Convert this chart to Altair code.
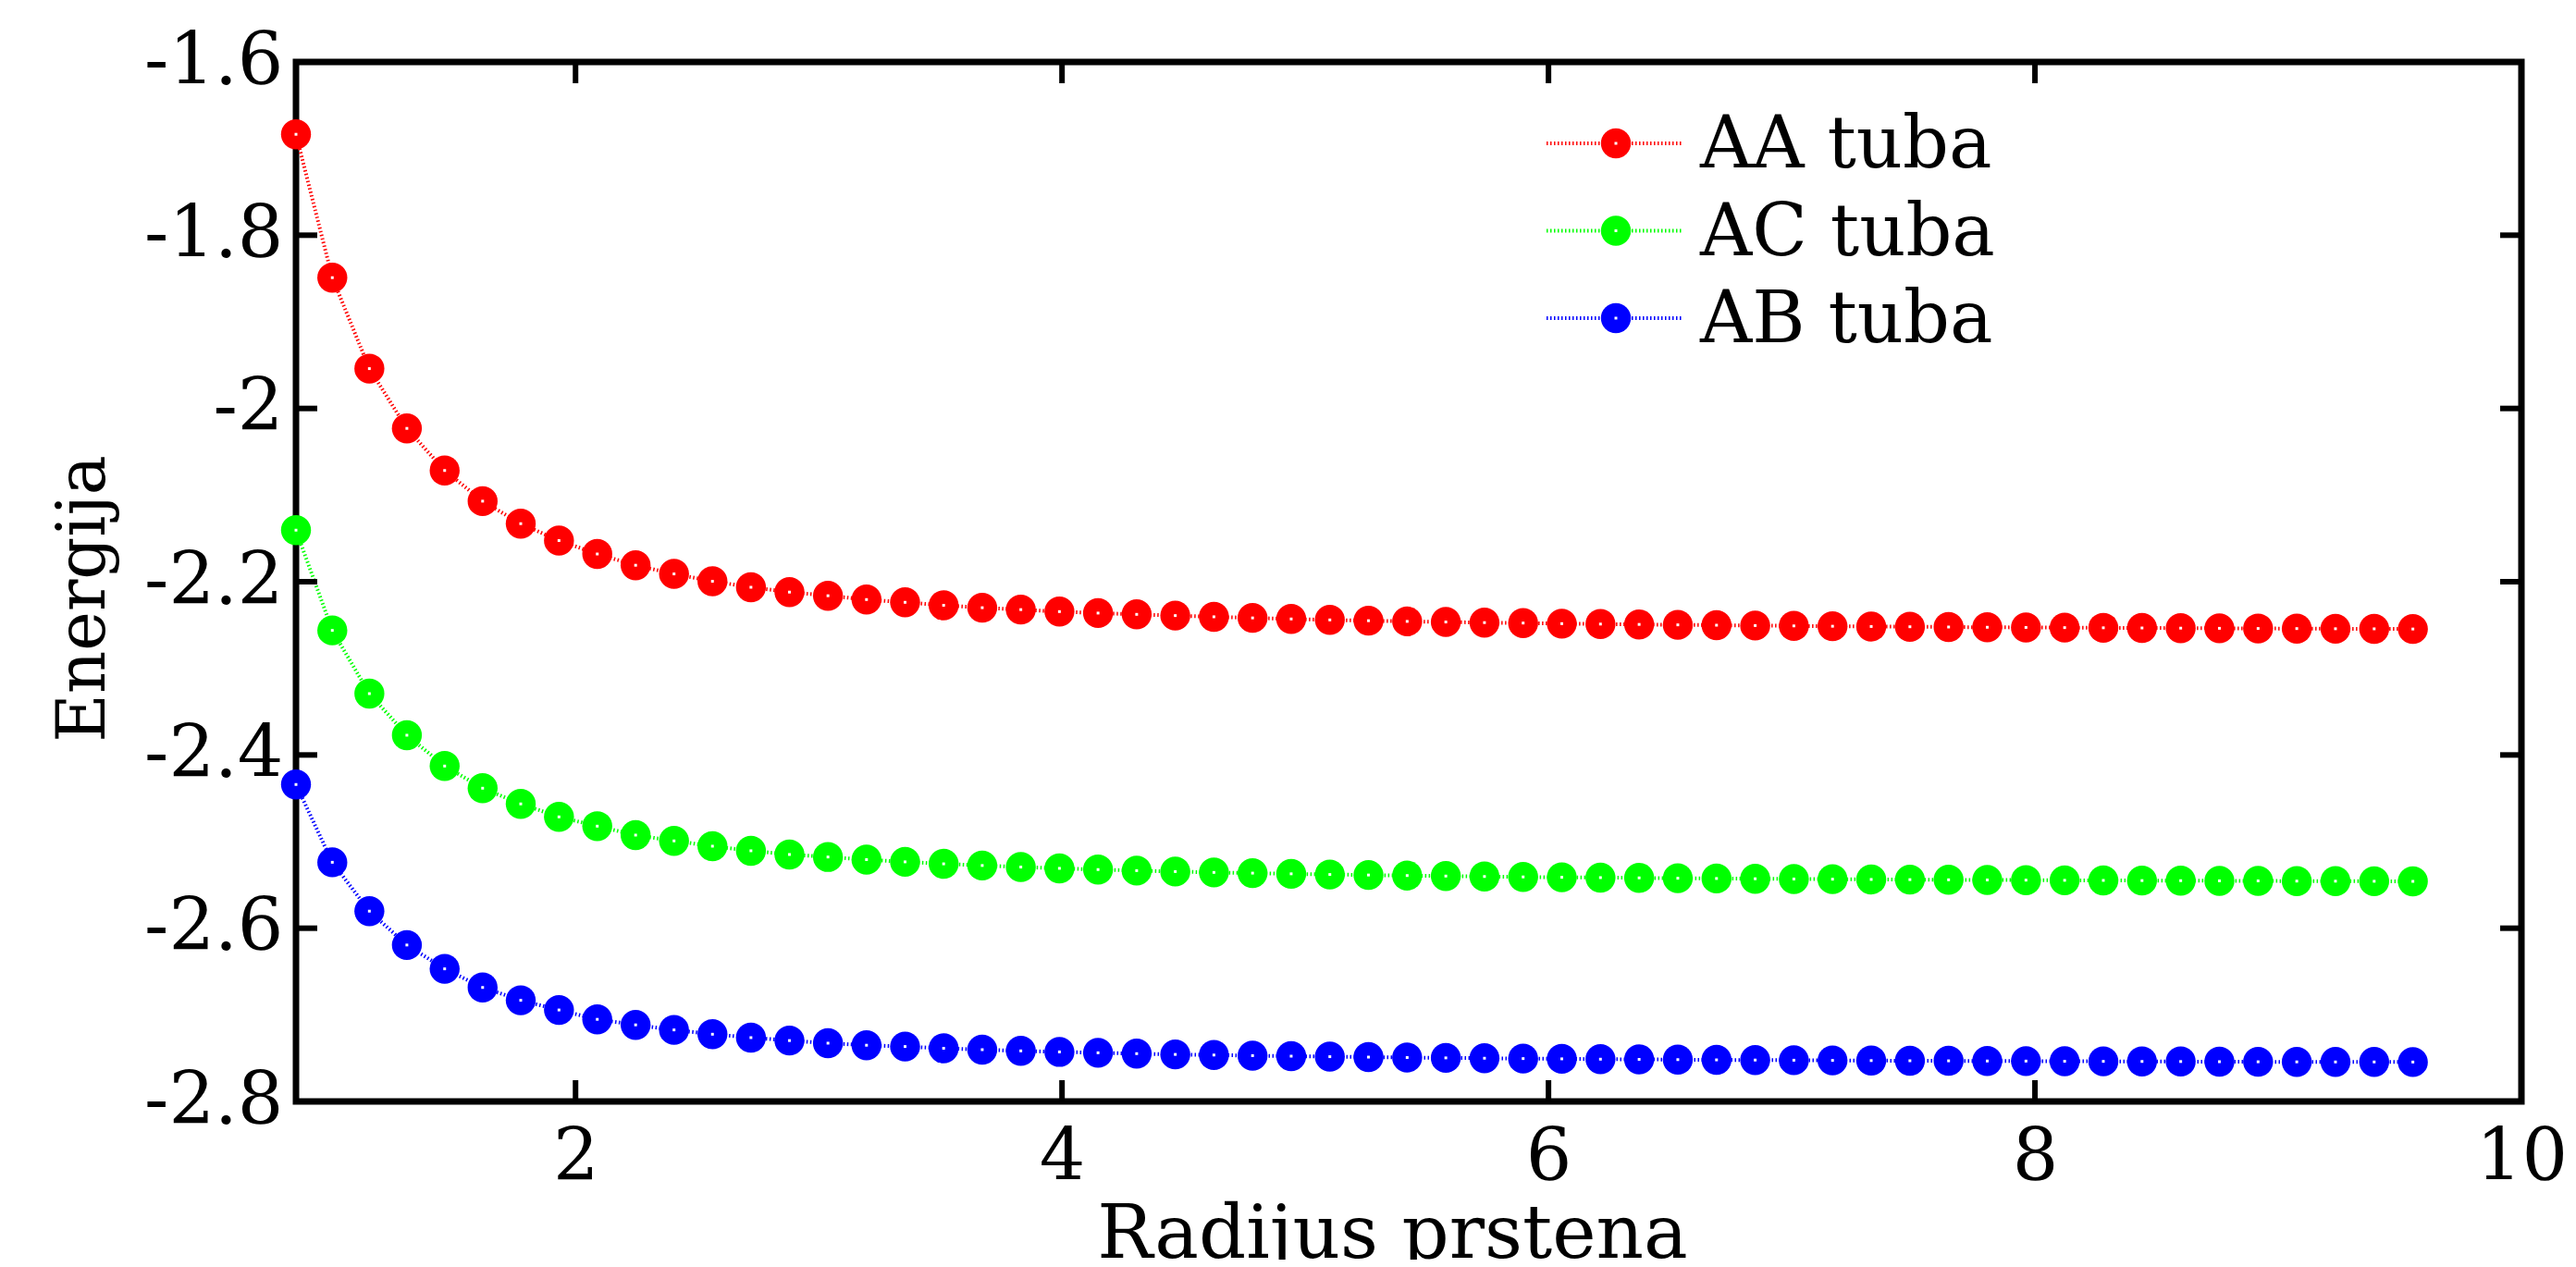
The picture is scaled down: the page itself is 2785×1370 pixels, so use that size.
import altair as alt
import pandas as pd

# ring radius (x) for each point
radius = [0.8507, 1.0000, 1.1524, 1.3066, 1.4619, 1.6180, 1.7747, 1.9319, 2.0893, 2.2470,
          2.4049, 2.5629, 2.7211, 2.8794, 3.0378, 3.1962, 3.3548, 3.5133, 3.6720, 3.8306,
          3.9894, 4.1481, 4.3069, 4.4657, 4.6245, 4.7834, 4.9422, 5.1011, 5.2600, 5.4190,
          5.5779, 5.7368, 5.8958, 6.0548, 6.2137, 6.3727, 6.5317, 6.6908, 6.8498, 7.0088,
          7.1678, 7.3268, 7.4859, 7.6449, 7.8039, 7.9630, 8.1220, 8.2811, 8.4401, 8.5992,
          8.7583, 8.9174, 9.0764, 9.2355, 9.3946, 9.5537]

aa_tuba = [-1.6835, -1.849, -1.954, -2.023, -2.0716, -2.107, -2.133, -2.1525, -2.168, -2.181,
           -2.191, -2.1995, -2.2064, -2.212, -2.2162, -2.2206, -2.2238, -2.2272, -2.2300, -2.2322,
           -2.2345, -2.2362, -2.2377, -2.2391, -2.2405, -2.2418, -2.2430, -2.2441, -2.2450, -2.2458,
           -2.2465, -2.2472, -2.2477, -2.2484, -2.2489, -2.2493, -2.2498, -2.2502, -2.2506, -2.2510,
           -2.2514, -2.2517, -2.2520, -2.2523, -2.2526, -2.2528, -2.2530, -2.2532, -2.2534, -2.2536,
           -2.2538, -2.2540, -2.2541, -2.2543, -2.2544, -2.2546]

ac_tuba = [-2.1405, -2.2562, -2.3292, -2.3772, -2.4128, -2.4384, -2.4565, -2.4715, -2.4822, -2.4925,
           -2.4992, -2.5053, -2.5106, -2.5149, -2.5178, -2.5208, -2.5234, -2.5257, -2.5276, -2.5294,
           -2.5309, -2.5323, -2.5335, -2.5346, -2.5356, -2.5364, -2.5372, -2.5380, -2.5386, -2.5392,
           -2.5398, -2.5403, -2.5408, -2.5412, -2.5416, -2.5419, -2.5423, -2.5426, -2.5429, -2.5432,
           -2.5434, -2.5437, -2.5439, -2.5441, -2.5443, -2.5445, -2.5447, -2.5448, -2.5450, -2.5451,
           -2.5453, -2.5454, -2.5456, -2.5457, -2.5458, -2.5459]

ab_tuba = [-2.4341, -2.5239, -2.5803, -2.6194, -2.6469, -2.6684, -2.6832, -2.6944, -2.7052, -2.7116,
           -2.7174, -2.7224, -2.7263, -2.7297, -2.7327, -2.7351, -2.7366, -2.7386, -2.7402, -2.7416,
           -2.7428, -2.7438, -2.7448, -2.7457, -2.7464, -2.7471, -2.7477, -2.7483, -2.7488, -2.7493,
           -2.7497, -2.7501, -2.7505, -2.7508, -2.7512, -2.7514, -2.7517, -2.7520, -2.7522, -2.7524,
           -2.7526, -2.7528, -2.7530, -2.7531, -2.7533, -2.7534, -2.7536, -2.7537, -2.7538, -2.7539,
           -2.7541, -2.7542, -2.7543, -2.7544, -2.7544, -2.7545]

series_names = ["AA tuba", "AC tuba", "AB tuba"]
series_colors = ["#ff0000", "#00ff00", "#0000ff"]

x_label_values = [2, 4, 6, 8, 10]
y_label_values = [-2.8, -2.6, -2.4, -2.2, -2.0, -1.8, -1.6]
x_inner_ticks = [2, 4, 6, 8]
y_inner_ticks = [-2.6, -2.4, -2.2, -2.0, -1.8]

rows = []
for name, vals in zip(series_names, [aa_tuba, ac_tuba, ab_tuba]):
    for r, v in zip(radius, vals):
        rows.append({"series": name, "x": r, "y": v})
df = pd.DataFrame(rows)
xt = pd.DataFrame({"x": x_inner_ticks})
yt = pd.DataFrame({"y": y_inner_ticks})
leg_df = pd.DataFrame({"series": series_names})

W, H = 2406, 1124
FONT = "DejaVu Serif"
TICK_LEN = 23

xscale = alt.Scale(domain=[0.8507, 10], nice=False, zero=False)
yscale = alt.Scale(domain=[-2.8, -1.6], nice=False, zero=False)
cscale = alt.Scale(domain=series_names, range=series_colors)

x_axis = alt.Axis(values=x_label_values, labelPadding=22, labelFlush=False,
                  titleX=1185, titleY=168, titleBaseline="alphabetic", titleAlign="center",
                  labelExpr="'' + datum.value")
y_axis = alt.Axis(values=y_label_values, labelPadding=14, labelFlush=False,
                  titleX=-208, titleY=580, titleAngle=270, titleBaseline="alphabetic",
                  titleAlign="center", titleFontSize=72, labelExpr="'' + datum.value")

X = alt.X("x:Q", scale=xscale, title="Radijus prstena", axis=x_axis)
Y = alt.Y("y:Q", scale=yscale, title="Energija", axis=y_axis)
COLOR = alt.Color("series:N", scale=cscale, legend=None)

lines = alt.Chart(df).mark_line(strokeWidth=4, strokeDash=[1.5, 2.5]).encode(
    x=X, y=Y, color=COLOR, detail="series:N")

points = alt.Chart(df).mark_point(filled=True, size=1050, strokeWidth=2, opacity=1).encode(
    x=X, y=Y, color=COLOR)

dots = alt.Chart(df).mark_square(size=9, color="white", opacity=1).encode(x=X, y=Y)

left_ticks = alt.Chart(yt).mark_rule(color="black", strokeWidth=6).encode(
    y=alt.Y("y:Q", scale=yscale), x=alt.value(0), x2=alt.value(TICK_LEN))
right_ticks = alt.Chart(yt).mark_rule(color="black", strokeWidth=6).encode(
    y=alt.Y("y:Q", scale=yscale), x=alt.value(W), x2=alt.value(W - TICK_LEN))
bottom_ticks = alt.Chart(xt).mark_rule(color="black", strokeWidth=6).encode(
    x=alt.X("x:Q", scale=xscale), y=alt.value(H), y2=alt.value(H - TICK_LEN))
top_ticks = alt.Chart(xt).mark_rule(color="black", strokeWidth=6).encode(
    x=alt.X("x:Q", scale=xscale), y=alt.value(0), y2=alt.value(TICK_LEN))

main = alt.layer(lines, points, dots, left_ticks, right_ticks, bottom_ticks, top_ticks)

# legend (inside, top right), rows placed by a point scale
LEG_Y = alt.Y("series:N", scale=alt.Scale(type="point", domain=series_names, range=[88, 277], padding=0),
              axis=None)
leg_line = alt.Chart(leg_df).mark_rule(strokeWidth=4, strokeDash=[1.5, 2.5]).encode(
    y=LEG_Y, x=alt.value(1352), x2=alt.value(1499), color=COLOR)
leg_point = alt.Chart(leg_df).mark_point(filled=True, size=1050, strokeWidth=2, opacity=1).encode(
    y=LEG_Y, x=alt.value(1427), color=COLOR)
leg_dot = alt.Chart(leg_df).mark_square(size=9, color="white", opacity=1).encode(
    y=LEG_Y, x=alt.value(1427))
leg_text = alt.Chart(leg_df).mark_text(align="left", baseline="middle", font=FONT, fontSize=78,
                                       color="black", dy=3).encode(
    y=LEG_Y, x=alt.value(1518), text="series:N")
leg = alt.layer(leg_line, leg_point, leg_dot, leg_text)

chart = alt.layer(main, leg).resolve_scale(y="independent").properties(
    width=W, height=H,
    autosize=alt.AutoSizeParams(type="none"),
    padding={"left": 312, "top": 59, "right": 51, "bottom": 171},
    background="white",
).configure_view(
    stroke="black", strokeWidth=7
).configure_axis(
    domain=False, grid=False, ticks=False,
    labelFont=FONT, labelFontSize=78, labelColor="black",
    titleFont=FONT, titleFontSize=80, titleFontWeight="normal", titleColor="black",
)

chart.save("out.html", embed_options={"renderer": "svg", "actions": False})
